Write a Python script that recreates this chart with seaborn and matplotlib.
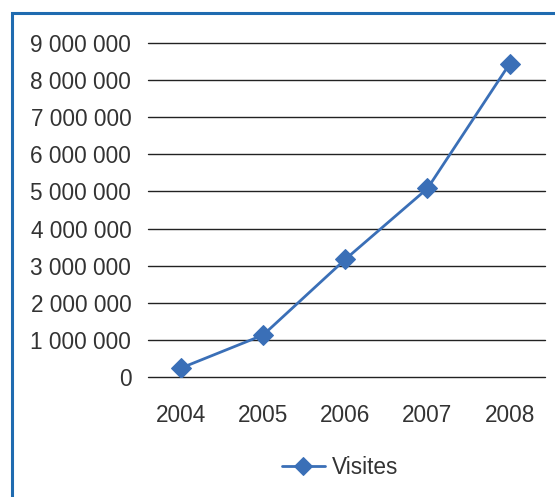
import pandas as pd
import seaborn as sns
import matplotlib.pyplot as plt
from matplotlib.patches import Rectangle
from matplotlib.ticker import FuncFormatter

# Data
years = ['2004', '2005', '2006', '2007', '2008']
visites = [240000, 1130000, 3170000, 5080000, 8440000]
series_name = 'Visites'

df = pd.DataFrame({'pos': range(len(years)), 'year': years, series_name: visites})

sns.set_style('white')
plt.rcParams['font.family'] = ['Liberation Sans', 'DejaVu Sans']

blue = '#3a6fb7'

fig = plt.figure(figsize=(5.55, 4.97), dpi=100)
ax = fig.add_axes([148 / 555, 1 - 377 / 497, 397 / 555, 334 / 497])

sns.lineplot(data=df, x='pos', y=series_name, ax=ax, color=blue, linewidth=2,
             marker='D', markersize=10, markeredgecolor=blue, label=series_name)

ax.set_xlim(-0.40, 4.43)
ax.set_ylim(0, 9000000)
ax.set_xticks(range(len(years)))
ax.set_xticklabels(years)
ax.set_yticks(range(0, 9000001, 1000000))
ax.yaxis.set_major_formatter(FuncFormatter(lambda v, p: f'{int(v):,}'.replace(',', ' ')))
ax.grid(axis='y', color='#222222', linewidth=1)
for gl in ax.get_ygridlines():
    gl.set_clip_on(False)
ax.set_axisbelow(True)
for s in ax.spines.values():
    s.set_visible(False)
ax.tick_params(axis='both', length=0, labelsize=16.3, colors='#333333')
ax.tick_params(axis='y', pad=12)
ax.tick_params(axis='x', pad=19.5)
ax.set_xlabel('')
ax.set_ylabel('')

ax.get_legend().remove()
fig.legend(loc='center', bbox_to_anchor=(340 / 555, 1 - 467 / 497), frameon=False,
           fontsize=16.3, handlelength=1.9, handletextpad=0.3, labelcolor='#333333',
           markerscale=0.95)

# blue frame around the chart (cut at right and bottom)
fig.patches.append(Rectangle((11.5 / 555, -0.1), 1.2, 1 - 12.5 / 497 + 0.1,
                             transform=fig.transFigure, fill=False,
                             edgecolor='#1f6bb0', linewidth=2.2))

fig.savefig('out.png', dpi=100)
